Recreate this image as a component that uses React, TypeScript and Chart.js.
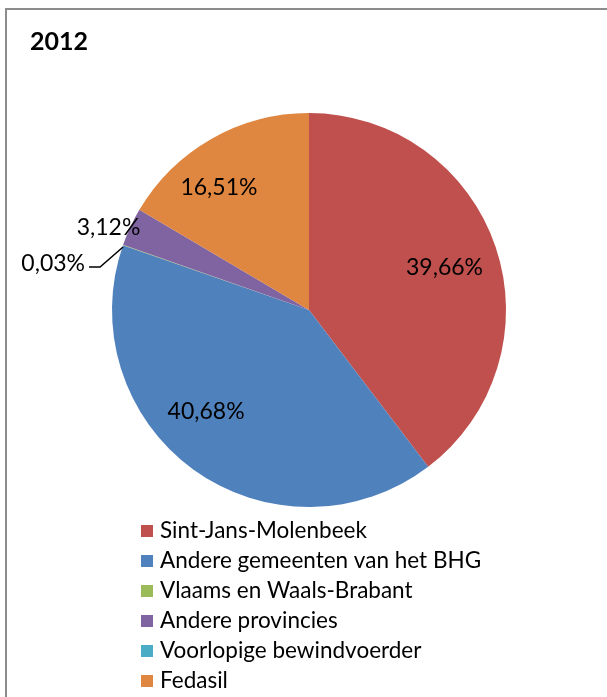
import React, { useEffect, useRef } from "react";
import { Chart, registerables } from "chart.js";

Chart.register(...registerables);

const title = "2012";
const categories = [
  "Sint-Jans-Molenbeek",
  "Andere gemeenten van het BHG",
  "Vlaams en Waals-Brabant",
  "Andere provincies",
  "Voorlopige bewindvoerder",
  "Fedasil",
];
const values = [39.66, 40.68, 0.03, 3.12, 0, 16.51];
const colors = ["#C0504D", "#4F81BD", "#9BBB59", "#8064A2", "#4BACC6", "#DF8640"];

const FONT = "Lato, 'Open Sans', sans-serif";

const fmt = (v: number) => v.toFixed(2).replace(".", ",") + "%";

// label placement tweaks (best-fit style, degrees / radius fraction) per slice
const LABEL_ANGLE_NUDGE = [1.4, 9.3, 0, 0, 0, -6.7];
const LABEL_RADIUS = [0.72, 0.735, 1, 1, 1, 0.77];

const overlayPlugin = {
  id: "overlay",
  afterDatasetsDraw(chart: any) {
    const ctx = chart.ctx as CanvasRenderingContext2D;
    const meta = chart.getDatasetMeta(0);
    const data = chart.data.datasets[0].data as number[];
    const total = data.reduce((a, b) => a + b, 0);
    ctx.save();
    ctx.fillStyle = "#000";
    ctx.strokeStyle = "#000";
    ctx.font = `23px ${FONT}`;
    ctx.textBaseline = "middle";
    meta.data.forEach((arc: any, i: number) => {
      const v = data[i];
      if (!v) return;
      const { x, y, startAngle, endAngle, outerRadius } = arc.getProps(
        ["x", "y", "startAngle", "endAngle", "outerRadius"],
        true
      );
      const frac = v / total;
      const text = fmt(v);
      const mid = (startAngle + endAngle) / 2;
      if (frac >= 0.05) {
        const a = mid + (LABEL_ANGLE_NUDGE[i] * Math.PI) / 180;
        const r = outerRadius * LABEL_RADIUS[i];
        ctx.textAlign = "center";
        ctx.fillText(text, x + Math.cos(a) * r, y + Math.sin(a) * r);
      } else if (frac >= 0.01) {
        const ex = x + Math.cos(mid) * outerRadius;
        const ey = y + Math.sin(mid) * outerRadius;
        ctx.textAlign = "right";
        ctx.fillText(text, ex + 10, ey + 1);
      } else {
        const ex = x + Math.cos(mid) * outerRadius;
        const ey = y + Math.sin(mid) * outerRadius + 2;
        ctx.lineWidth = 1.5;
        ctx.beginPath();
        ctx.moveTo(ex, ey);
        ctx.lineTo(ex - 23, ey + 20);
        ctx.lineTo(ex - 34, ey + 20);
        ctx.stroke();
        ctx.textAlign = "right";
        ctx.fillText(text, ex - 38, ey + 17);
      }
    });

    // title
    ctx.font = `bold 25px ${FONT}`;
    ctx.textAlign = "left";
    ctx.fillText(title, 30, 42);

    // legend
    ctx.font = `22.5px ${FONT}`;
    const labels = chart.data.labels as string[];
    const bg = chart.data.datasets[0].backgroundColor as string[];
    labels.forEach((lab, i) => {
      const cy = 531 + i * 30;
      ctx.fillStyle = bg[i];
      ctx.fillRect(141, cy - 6, 12, 12);
      ctx.fillStyle = "#000";
      ctx.fillText(lab, 160, cy);
    });

    // border
    ctx.strokeStyle = "#8c8c8c";
    ctx.lineWidth = 2;
    ctx.beginPath();
    ctx.moveTo(6, 800);
    ctx.lineTo(6, 9);
    ctx.lineTo(700, 9);
    ctx.stroke();
    ctx.restore();
  },
};

export default function App() {
  const ref = useRef<HTMLCanvasElement | null>(null);
  useEffect(() => {
    if (!ref.current) return;
    const chart = new Chart(ref.current, {
      type: "pie",
      data: {
        labels: categories,
        datasets: [
          {
            data: values,
            backgroundColor: colors,
            borderWidth: 0,
            hoverOffset: 0,
          },
        ],
      },
      options: {
        responsive: false,
        animation: false,
        layout: { padding: { left: 112, top: 113, right: 101, bottom: 190 } },
        plugins: {
          legend: { display: false },
          title: { display: false },
          tooltip: { enabled: false },
        },
      },
      plugins: [overlayPlugin],
    });
    return () => chart.destroy();
  }, []);
  return (
    <div style={{ position: "absolute", left: 0, top: 0, width: 607, height: 697, background: "#fff" }}>
      <canvas ref={ref} width={607} height={697} style={{ display: "block", width: 607, height: 697 }} />
    </div>
  );
}
